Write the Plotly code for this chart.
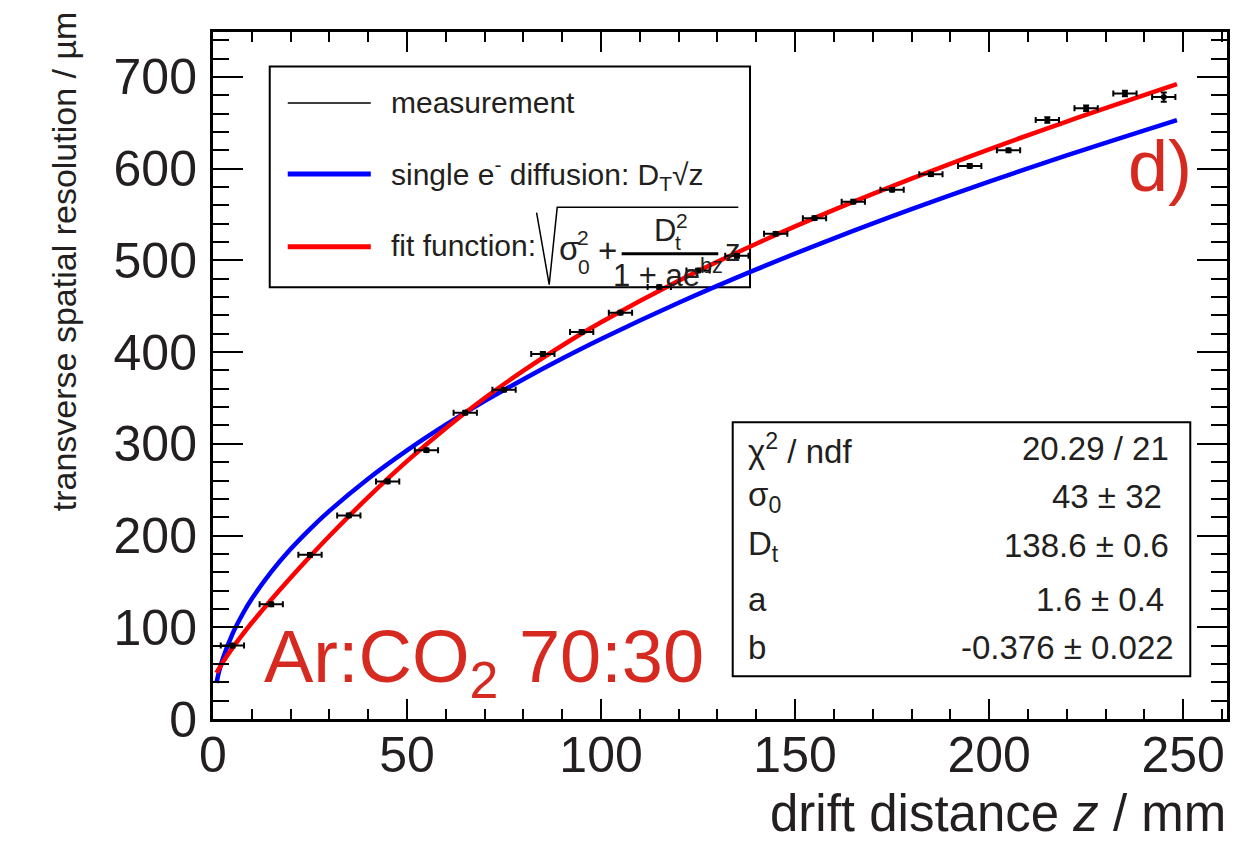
import plotly.graph_objects as go

# ---------------- data ----------------
z_mm = [5, 15, 25, 35, 45, 55, 65, 75, 85, 95, 105, 115, 125,
        135, 145, 155, 165, 175, 185, 195, 205, 215, 225, 235, 245]
resolution_um = [80, 125, 179, 222, 259, 293, 334, 359, 398, 422, 443, 471, 489,
                 505, 529, 546, 564, 577, 594, 603, 620, 653, 666, 682, 678]
z_err_mm = [3, 3, 3, 3, 3, 3, 3, 3, 3, 3, 3, 3, 3,
            3, 3, 3, 3, 3, 3, 3, 3, 3, 3, 3, 3]
res_err_um = [2, 2, 2, 2, 2, 2, 2, 2, 2, 2, 2, 2, 2,
              2, 2, 2, 2, 2, 2, 2, 2, 3, 3, 3, 5]

curve_z_mm = [0.9, 1.5, 2.5, 5, 7.5, 10, 15, 20, 25, 30, 40, 50, 60, 70, 80,
              90, 100, 120, 140, 160, 180, 200, 220, 248.4]
single_e_diffusion_um = [39.3, 50.7, 65.5, 92.6, 113.4, 131.0, 160.4, 185.3, 207.1,
                         226.9, 262.0, 292.9, 320.9, 346.6, 370.5, 393.0, 414.3,
                         453.8, 490.2, 524.0, 555.8, 585.9, 614.4, 652.9]
fit_function_um = [50.3, 54.7, 61.7, 77.3, 91.5, 104.9, 130.1, 154.1, 177.2,
                   199.5, 241.9, 281.2, 317.1, 349.9, 379.8, 407.2, 432.5,
                   477.9, 518.2, 555.0, 589.1, 621.1, 651.4, 692.1]

x_ticks = [0, 50, 100, 150, 200, 250]
y_ticks = [0, 100, 200, 300, 400, 500, 600, 700]

stat_labels = ["χ<sup>2</sup> / ndf", "σ<sub>0</sub>", "D<sub>t</sub>", "a", "b"]
stat_values = ["20.29 / 21", "43 ± 32", "138.6 ± 0.6", "1.6 ± 0.4", "-0.376 ± 0.022"]

# ---------------- layout geometry ----------------
W, H = 1245, 846
L, R, T, B = 213.3, 1226.7, 32.3, 719.5
X_MAX, Y_MAX = 261.3, 749.0

FONT = "Liberation Sans, Arial, Helvetica, sans-serif"
RED_TXT = "#d62a20"
INK = "#231f20"


def px(x):
    return (x - L) / (R - L)


def py(y):
    return (B - y) / (B - T)


fig = go.Figure()

fig.add_trace(go.Scatter(
    x=curve_z_mm, y=single_e_diffusion_um, mode="lines",
    line=dict(color="#0000ff", width=4.5, shape="spline"), showlegend=False))
fig.add_trace(go.Scatter(
    x=curve_z_mm, y=fit_function_um, mode="lines",
    line=dict(color="#ff0000", width=4.5, shape="spline"), showlegend=False))
fig.add_trace(go.Scatter(
    x=z_mm, y=resolution_um, mode="markers",
    marker=dict(color="black", size=6),
    error_x=dict(type="data", array=z_err_mm, color="black", thickness=2, width=3),
    error_y=dict(type="data", array=res_err_um, color="black", thickness=2, width=3),
    showlegend=False))

shapes = []
annotations = []


def txt(s, x, y, size, xa="center", color=INK, angle=0, ya="middle"):
    annotations.append(dict(text=s, x=px(x), y=py(y), xref="paper", yref="paper",
                            xanchor=xa, yanchor=ya, showarrow=False,
                            textangle=angle,
                            font=dict(family=FONT, size=size, color=color)))


# legend box
shapes.append(dict(type="rect", xref="paper", yref="paper",
                   x0=px(270), x1=px(750), y0=py(287.7), y1=py(66.7),
                   line=dict(color="black", width=2), fillcolor="white", layer="below"))
for yy, col, wd in [(103.3, "black", 1.5), (174.3, "#0000ff", 5), (247, "#ff0000", 5)]:
    shapes.append(dict(type="line", xref="paper", yref="paper",
                       x0=px(288), x1=px(371), y0=py(yy), y1=py(yy),
                       line=dict(color=col, width=wd)))
txt("measurement", 389, 103, 30, xa="left")
txt("single e<sup>-</sup> diffusion: D<sub>T</sub>√z", 389, 174, 30, xa="left")
txt("fit function:", 389, 246, 30, xa="left")

# radical sign
shapes.append(dict(type="path", xref="paper", yref="paper",
                   path="M {},{} L {},{} L {},{} L {},{}".format(
                       px(536.7), py(213), px(549.3), py(285),
                       px(557.3), py(207.7), px(738.3), py(207.7)),
                   line=dict(color="black", width=1.5)))
# fraction bar
shapes.append(dict(type="line", xref="paper", yref="paper",
                   x0=px(621.7), x1=px(718.3), y0=py(254), y1=py(254),
                   line=dict(color="black", width=3)))

txt("σ", 569, 249, 33)
txt("2", 583, 238, 21)
txt("0", 584, 267, 21)
txt("+", 607.5, 251, 33)
txt("D", 665, 231, 31)
txt("2", 682, 221, 21)
txt("t", 678, 243, 21)
txt("1 + ae<sup>bz</sup>", 668, 273, 31)
txt("z", 733, 251, 31)

# stats box
shapes.append(dict(type="rect", xref="paper", yref="paper",
                   x0=px(732.7), x1=px(1190), y0=py(676.7), y1=py(422.7),
                   line=dict(color="black", width=2), fillcolor="white", layer="below"))
row_y = [449, 497, 546, 600, 648]
val_right = [1171, 1164, 1171, 1166, 1176]
for lab, val, yy, xr in zip(stat_labels, stat_values, row_y, val_right):
    txt(lab, 746, yy, 33, xa="left")
    txt(val, xr, yy, 33, xa="right")

# big red labels
txt("Ar:CO<sub>2</sub> 70:30", 262, 662, 74, xa="left", color=RED_TXT)
txt("d)", 1160, 166, 72, color=RED_TXT)

# axis titles
txt("drift distance <i>z</i> / mm", 1228, 845, 51, xa="right", ya="bottom")
txt("transverse spatial resolution / µm", 64, 262, 34, angle=-90)

axis_common = dict(showline=True, linewidth=3, linecolor="black", mirror="allticks",
                   ticks="inside", tickcolor="black", tickwidth=2,
                   showgrid=False, zeroline=False)

fig.update_layout(
    width=W, height=H, autosize=False,
    margin=dict(l=L, r=W - R, t=T, b=H - B, pad=0),
    paper_bgcolor="white", plot_bgcolor="white",
    shapes=shapes, annotations=annotations, showlegend=False,
    xaxis=dict(range=[0, X_MAX], tickvals=x_ticks, ticktext=[str(v) for v in x_ticks],
               ticklen=20, ticklabelstandoff=-10,
               minor=dict(dtick=10, tick0=0, ticklen=10, tickwidth=2, ticks="inside",
                          tickcolor="black"),
               tickfont=dict(family=FONT, size=50, color=INK),
               **axis_common),
    yaxis=dict(range=[0, Y_MAX], tickvals=y_ticks, ticktext=[str(v) for v in y_ticks],
               ticklen=30, ticklabelstandoff=3,
               minor=dict(dtick=20, tick0=0, ticklen=16, tickwidth=2, ticks="inside",
                          tickcolor="black"),
               tickfont=dict(family=FONT, size=50, color=INK),
               **axis_common),
)

fig.write_html("out.html")
